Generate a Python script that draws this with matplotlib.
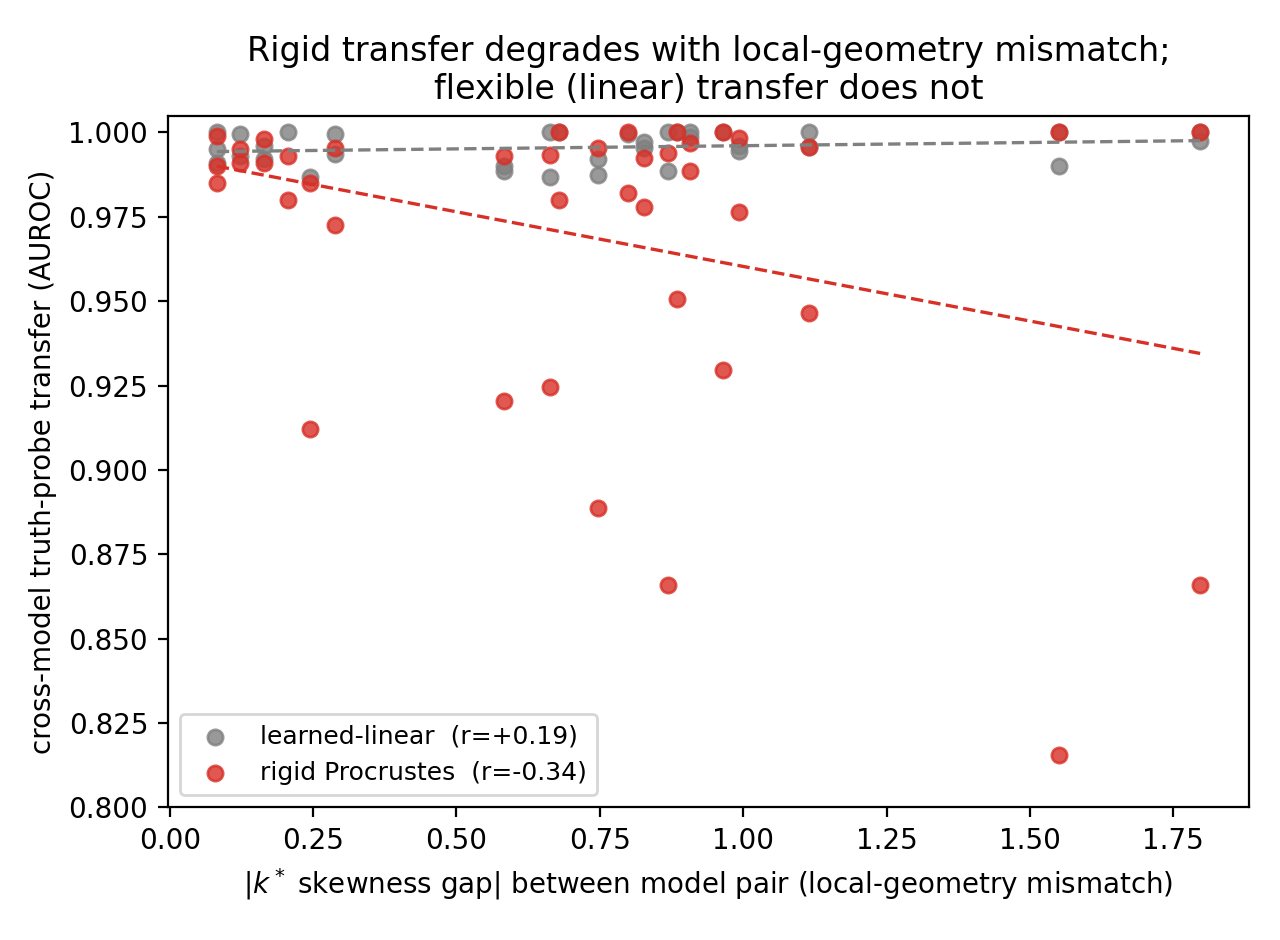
import matplotlib
matplotlib.use('Agg')
import matplotlib.pyplot as plt
import numpy as np

# |k* skewness gap| per model pair, with AUROC of each transfer method
linear_gap = [0.082, 0.082, 0.082, 0.122, 0.122, 0.165, 0.165, 0.206, 0.245, 0.288, 0.288,
              0.582, 0.582, 0.663, 0.663, 0.679, 0.746, 0.746, 0.80, 0.827, 0.827, 0.869, 0.869,
              0.885, 0.907, 0.907, 0.965, 0.993, 0.993, 1.114, 1.114, 1.551, 1.551, 1.797, 1.797]
linear_auroc = [1.000, 0.995, 0.991, 0.9997, 0.993, 0.996, 0.992, 1.000, 0.9867, 0.9995, 0.9935,
                0.990, 0.9885, 1.000, 0.9867, 1.000, 0.992, 0.9875, 0.9995, 0.9973, 0.9955, 1.000, 0.9887,
                1.000, 1.000, 0.9988, 1.000, 0.996, 0.9945, 1.000, 0.9958, 1.000, 0.990, 1.000, 0.9975]

rigid_gap = [0.082, 0.082, 0.082, 0.122, 0.122, 0.165, 0.165, 0.206, 0.206, 0.245, 0.245,
             0.288, 0.288, 0.582, 0.582, 0.663, 0.663, 0.679, 0.679, 0.746, 0.746, 0.80, 0.80,
             0.827, 0.827, 0.869, 0.869, 0.885, 0.885, 0.907, 0.907, 0.965, 0.965, 0.993, 0.993,
             1.114, 1.114, 1.551, 1.551, 1.797, 1.797]
rigid_auroc = [0.999, 0.990, 0.985, 0.995, 0.991, 0.998, 0.991, 0.993, 0.980, 0.985, 0.912,
               0.9955, 0.9725, 0.993, 0.9205, 0.9933, 0.9247, 1.000, 0.980, 0.9955, 0.8887, 1.000, 0.982,
               0.9925, 0.978, 0.994, 0.8659, 1.000, 0.9507, 0.997, 0.9885, 1.000, 0.9297, 0.9985, 0.9763,
               0.9958, 0.9466, 1.000, 0.8154, 1.000, 0.8659]

LINEAR_COLOR = 'gray'
RIGID_COLOR = '#d73027'


def _fit_line(x, y):
    coef = np.polyfit(x, y, 1)
    xs = np.array([min(x), max(x)])
    return xs, np.polyval(coef, xs)


def main() -> None:
    fig, ax = plt.subplots(figsize=(6.4, 4.7), dpi=200)

    ax.scatter(linear_gap, linear_auroc, s=30, color=LINEAR_COLOR, alpha=0.8,
               label='learned-linear  (r=+0.19)')
    ax.scatter(rigid_gap, rigid_auroc, s=30, color=RIGID_COLOR, alpha=0.8,
               label='rigid Procrustes  (r=-0.34)')

    xs, ys = _fit_line(linear_gap, linear_auroc)
    ax.plot(xs, ys, '--', color=LINEAR_COLOR, lw=1.2)
    xs, ys = _fit_line(rigid_gap, rigid_auroc)
    ax.plot(xs, ys, '--', color=RIGID_COLOR, lw=1.2)

    ax.set_ylim(0.80, 1.005)
    ax.set_xlabel(r'$|k^*$ skewness gap| between model pair (local-geometry mismatch)')
    ax.set_ylabel('cross-model truth-probe transfer (AUROC)')
    ax.set_title('Rigid transfer degrades with local-geometry mismatch;\n'
                 'flexible (linear) transfer does not')
    ax.legend(loc='lower left', fontsize=9)
    fig.subplots_adjust(left=0.131, right=0.976, top=0.877, bottom=0.141)
    fig.savefig('out.png')
    plt.close(fig)


if __name__ == '__main__':
    main()
